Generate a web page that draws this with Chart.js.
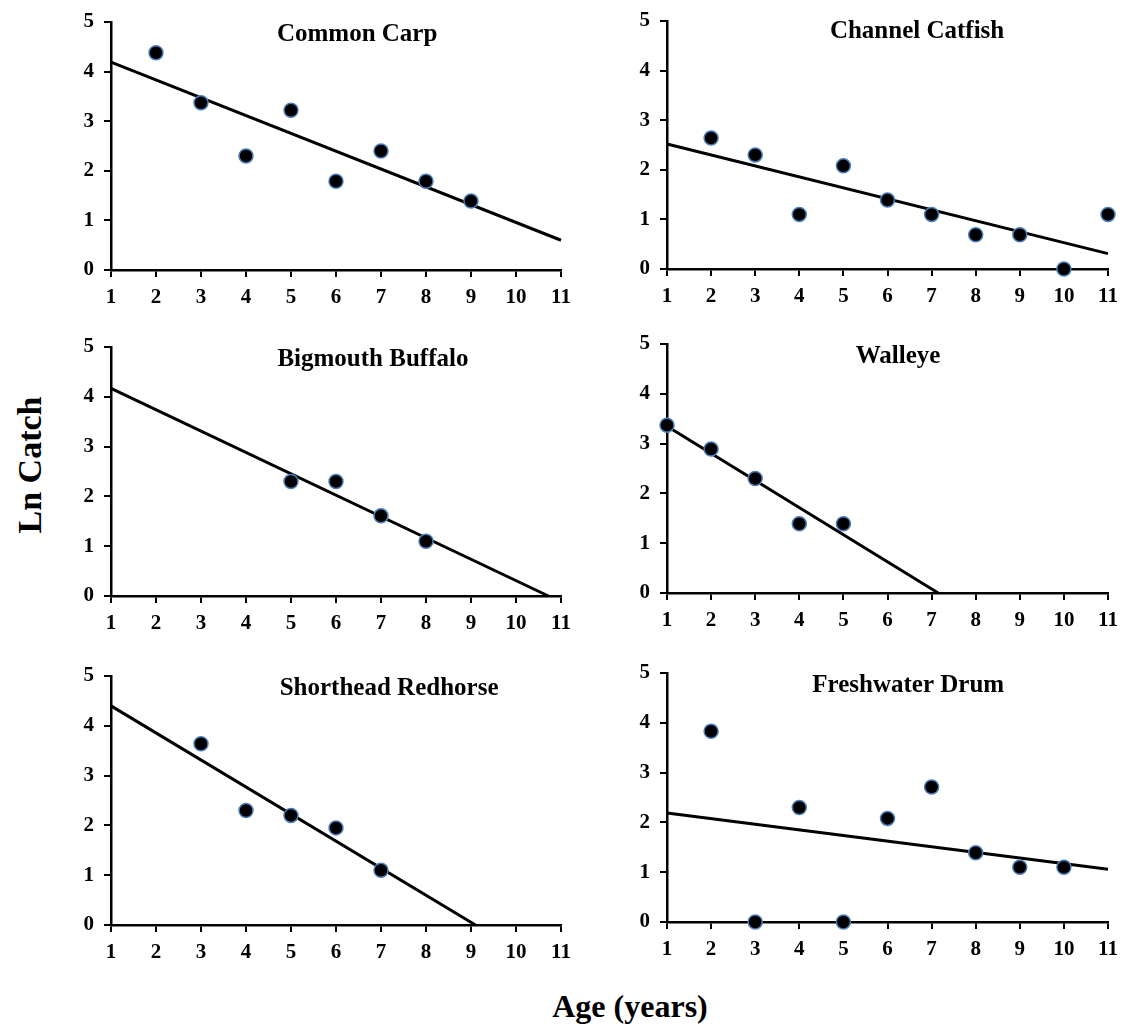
<!DOCTYPE html>
<html>
<head>
<meta charset="utf-8">
<script src="https://cdn.jsdelivr.net/npm/chart.js@4.4.1/dist/chart.umd.min.js"></script>
<style>
  html, body { margin: 0; padding: 0; background: #fff; }
  #page { position: relative; width: 1133px; height: 1029px; overflow: hidden; }
  .panel { position: absolute; }
  .axis-title {
    position: absolute;
    font-family: "Liberation Serif", "Times New Roman", serif;
    font-weight: bold;
    color: #000;
    white-space: nowrap;
  }
  #ylab { left: 30px; top: 465px; font-size: 34px; transform: translate(-50%, -50%) rotate(-90deg); }
  #xlab { left: 630px; top: 1006px; font-size: 32px; transform: translate(-50%, -50%); }
</style>
</head>
<body>
<div id="page">
  <div id="ylab" class="axis-title">Ln Catch</div>
  <div id="xlab" class="axis-title">Age (years)</div>
</div>

<script>
// Data (ln of catch by age)
const xTicks = [1, 2, 3, 4, 5, 6, 7, 8, 9, 10, 11];
const yTicks = [0, 1, 2, 3, 4, 5];

const speciesNames = ['Common Carp', 'Channel Catfish', 'Bigmouth Buffalo',
                      'Walleye', 'Shorthead Redhorse', 'Freshwater Drum'];

const carpAges = [2, 3, 4, 5, 6, 7, 8, 9];
const carpLn = [4.38, 3.37, 2.30, 3.22, 1.79, 2.40, 1.79, 1.39];
const carpFitX = [1, 11];
const carpFitY = [4.19, 0.60];

const catfishAges = [2, 3, 4, 5, 6, 7, 8, 9, 10, 11];
const catfishLn = [2.64, 2.30, 1.10, 2.08, 1.39, 1.10, 0.69, 0.69, 0.00, 1.10];
const catfishFitX = [1, 11];
const catfishFitY = [2.52, 0.31];

const buffaloAges = [5, 6, 7, 8];
const buffaloLn = [2.30, 2.30, 1.61, 1.10];
const buffaloFitX = [1, 10.72];
const buffaloFitY = [4.17, 0];

const walleyeAges = [1, 2, 3, 4, 5];
const walleyeLn = [3.37, 2.89, 2.30, 1.39, 1.39];
const walleyeFitX = [1, 7.15];
const walleyeFitY = [3.35, 0];

const redhorseAges = [3, 4, 5, 6, 7];
const redhorseLn = [3.64, 2.30, 2.20, 1.95, 1.10];
const redhorseFitX = [1, 9.1];
const redhorseFitY = [4.40, 0];

const drumAges = [2, 3, 4, 5, 6, 7, 8, 9, 10];
const drumLn = [3.83, 0.00, 2.30, 0.00, 2.08, 2.71, 1.39, 1.10, 1.10];
const drumFitX = [1, 11];
const drumFitY = [2.19, 1.06];

const agesBySpecies = [carpAges, catfishAges, buffaloAges, walleyeAges, redhorseAges, drumAges];
const lnBySpecies = [carpLn, catfishLn, buffaloLn, walleyeLn, redhorseLn, drumLn];
const fitXBySpecies = [carpFitX, catfishFitX, buffaloFitX, walleyeFitX, redhorseFitX, drumFitX];
const fitYBySpecies = [carpFitY, catfishFitY, buffaloFitY, walleyeFitY, redhorseFitY, drumFitY];

// Layout: plot area box of each panel in page pixels, and where its title sits (axis units)
const plotBoxes = [
    { left: 111, top: 22, right: 561, bottom: 270 },
    { left: 667, top: 21, right: 1108, bottom: 269 },
    { left: 111, top: 347, right: 561, bottom: 596 },
    { left: 667, top: 344, right: 1108, bottom: 593 },
    { left: 111, top: 676, right: 561, bottom: 925 },
    { left: 667, top: 673, right: 1108, bottom: 922 },
];
const titleSpots = [[6.47, 4.74], [6.67, 4.78], [6.82, 4.74], [6.24, 4.74], [7.18, 4.74], [6.47, 4.74]];

const FONT = '"Liberation Serif", "Times New Roman", serif';
// top pad must exceed the y scale's own label padding (half label + tick padding)
const PAD_LEFT = 50, PAD_TOP = 28, PAD_RIGHT = 20, PAD_BOTTOM = 40;

// Draws the species name inside the plot area
const panelTitle = {
    id: 'panelTitle',
    afterDatasetsDraw(chart, args, opts) {
        const { ctx, scales } = chart;
        ctx.save();
        ctx.font = 'bold 25px ' + FONT;
        ctx.fillStyle = '#000';
        ctx.textAlign = 'center';
        ctx.textBaseline = 'middle';
        ctx.fillText(opts.text, scales.x.getPixelForValue(opts.x), scales.y.getPixelForValue(opts.y));
        ctx.restore();
    }
};

function makePanel(i) {
    const box = plotBoxes[i];
    const w = box.right - box.left + PAD_LEFT + PAD_RIGHT;
    const h = box.bottom - box.top + PAD_TOP + PAD_BOTTOM;

    const wrap = document.createElement('div');
    wrap.className = 'panel';
    wrap.style.left = (box.left - PAD_LEFT) + 'px';
    wrap.style.top = (box.top - PAD_TOP) + 'px';
    wrap.style.width = w + 'px';
    wrap.style.height = h + 'px';
    const canvas = document.createElement('canvas');
    wrap.appendChild(canvas);
    document.getElementById('page').appendChild(wrap);

    const points = agesBySpecies[i].map((a, k) => ({ x: a, y: lnBySpecies[i][k] }));
    const fit = fitXBySpecies[i].map((a, k) => ({ x: a, y: fitYBySpecies[i][k] }));

    return new Chart(canvas.getContext('2d'), {
        type: 'scatter',
        data: {
            datasets: [
                {
                    type: 'line',
                    data: fit,
                    borderColor: '#000',
                    borderWidth: 3,
                    pointRadius: 0,
                    fill: false,
                    clip: false,
                    order: 2,
                },
                {
                    data: points,
                    backgroundColor: '#000',
                    borderColor: '#4a7ebb',
                    borderWidth: 1.5,
                    pointRadius: 7,
                    clip: false,
                    order: 1,
                }
            ]
        },
        options: {
            responsive: true,
            maintainAspectRatio: false,
            animation: false,
            events: [],
            layout: {
                autoPadding: false,
                padding: { left: 0, top: PAD_TOP, right: PAD_RIGHT, bottom: 0 }
            },
            plugins: {
                legend: { display: false },
                tooltip: { enabled: false },
                panelTitle: { text: speciesNames[i], x: titleSpots[i][0], y: titleSpots[i][1] }
            },
            scales: {
                x: {
                    type: 'linear',
                    min: xTicks[0],
                    max: xTicks[xTicks.length - 1],
                    afterBuildTicks: s => { s.ticks = xTicks.map(v => ({ value: v })); },
                    afterFit: s => { s.height = PAD_BOTTOM; },
                    grid: { drawOnChartArea: false, color: '#000', lineWidth: 2, tickLength: 7 },
                    border: { color: '#000', width: 2.5 },
                    ticks: { color: '#000', padding: 8, maxRotation: 0, autoSkip: false,
                             font: { family: FONT, size: 21, weight: 'bold' } }
                },
                y: {
                    min: yTicks[0],
                    max: yTicks[yTicks.length - 1],
                    afterBuildTicks: s => { s.ticks = yTicks.map(v => ({ value: v })); },
                    afterFit: s => { s.width = PAD_LEFT; },
                    grid: { drawOnChartArea: false, color: '#000', lineWidth: 2, tickLength: 7 },
                    border: { color: '#000', width: 2.5 },
                    ticks: { color: '#000', padding: 10,
                             font: { family: FONT, size: 21, weight: 'bold' } }
                }
            }
        },
        plugins: [panelTitle]
    });
}

speciesNames.forEach((name, i) => makePanel(i));
</script>
</body>
</html>
